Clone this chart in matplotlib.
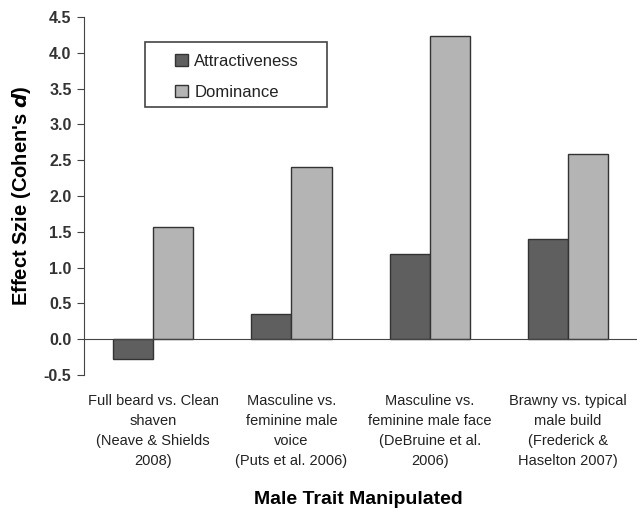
import matplotlib.pyplot as plt
from matplotlib.patches import Rectangle
import numpy as np

plt.rcParams['font.family'] = ['Liberation Sans', 'DejaVu Sans']

categories = [
    "Full beard vs. Clean\nshaven\n(Neave & Shields\n2008)",
    "Masculine vs.\nfeminine male\nvoice\n(Puts et al. 2006)",
    "Masculine vs.\nfeminine male face\n(DeBruine et al.\n2006)",
    "Brawny vs. typical\nmale build\n(Frederick &\nHaselton 2007)",
]
attractiveness = [-0.27, 0.35, 1.19, 1.40]
dominance = [1.56, 2.40, 4.23, 2.58]
yticks = [-0.5, 0.0, 0.5, 1.0, 1.5, 2.0, 2.5, 3.0, 3.5, 4.0, 4.5]

fig = plt.figure(figsize=(6.37, 5.13), dpi=100)
ax = fig.add_axes([0.132, 0.269, 0.868, 0.698])

x = np.arange(len(categories))
w = 0.29
ax.bar(x - w / 2, attractiveness, w, color="#5f5f5f", edgecolor="#333333",
       linewidth=1.0, label="Attractiveness")
ax.bar(x + w / 2, dominance, w, color="#b4b4b4", edgecolor="#333333",
       linewidth=1.0, label="Dominance")

ax.set_xlim(-0.5, 3.5)
ax.set_ylim(-0.5, 4.5)
ax.set_yticks(yticks)
ax.set_yticklabels([f"{v:.1f}" for v in yticks], fontsize=11.5, fontweight="bold",
                   color="#333333")
ax.set_xticks([])

for s in ["top", "right"]:
    ax.spines[s].set_visible(False)
ax.spines["bottom"].set_position(("data", 0))
ax.spines["left"].set_color("#444444")
ax.spines["bottom"].set_color("#444444")
ax.tick_params(axis="y", direction="out", length=5, color="#444444", pad=4)

for i, lab in enumerate(categories):
    ax.text(i, -0.77, lab, ha="center", va="top", fontsize=10.5,
            linespacing=1.55, color="#222222")

ax.set_ylabel("Effect Szie (Cohen's $\\boldsymbol{d}$)", fontsize=14.5,
              fontweight="bold", labelpad=8)
fig.text(0.562, 0.026, "Male Trait Manipulated", ha="center", va="center",
         fontsize=14, fontweight="bold")

# legend box
box = Rectangle((145 / 637, 1 - 107 / 513), 182 / 637, 65 / 513,
                transform=fig.transFigure, facecolor="white",
                edgecolor="#444444", linewidth=1.2, zorder=5, clip_on=False)
ax.add_patch(box)
leg = ax.legend(loc="upper left", bbox_to_anchor=(175 / 637, 1 - 54 / 513),
                bbox_transform=fig.transFigure, fontsize=12, frameon=False,
                handlelength=0.75, handleheight=0.75, borderpad=0,
                labelspacing=0.95, handletextpad=0.4, borderaxespad=0)
leg.set_zorder(6)
for t in leg.get_texts():
    t.set_color("#222222")

fig.savefig("out.png", dpi=100)
